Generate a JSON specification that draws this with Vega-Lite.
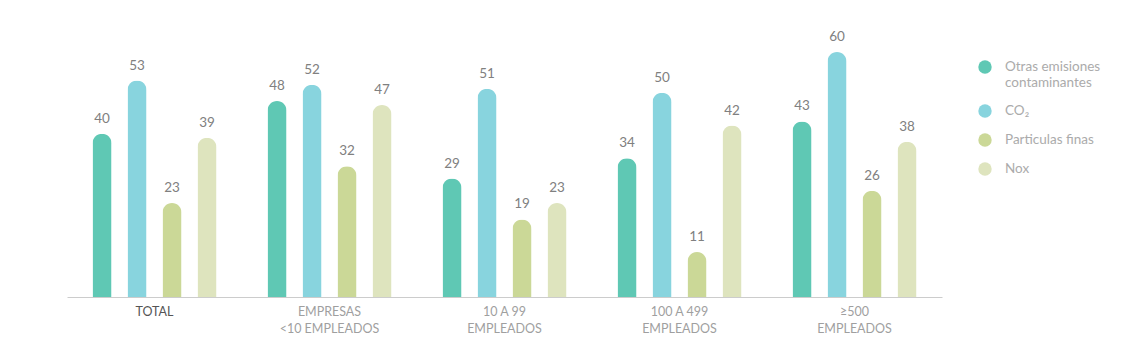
{
  "$schema": "https://vega.github.io/schema/vega-lite/v6.json",
  "width": 875,
  "height": 245,
  "autosize": {"type": "none"},
  "padding": {"left": 67, "top": 52, "right": 198, "bottom": 61},
  "background": "#ffffff",
  "config": {
    "view": {"stroke": null},
    "font": "Lato",
    "text": {"font": "Lato"}
  },
  "data": {
    "values": [
      {"grupo": "TOTAL", "serie": "Otras emisiones|contaminantes", "valor": 40},
      {"grupo": "TOTAL", "serie": "CO₂", "valor": 53},
      {"grupo": "TOTAL", "serie": "Particulas finas", "valor": 23},
      {"grupo": "TOTAL", "serie": "Nox", "valor": 39},
      {"grupo": "EMPRESAS|<10 EMPLEADOS", "serie": "Otras emisiones|contaminantes", "valor": 48},
      {"grupo": "EMPRESAS|<10 EMPLEADOS", "serie": "CO₂", "valor": 52},
      {"grupo": "EMPRESAS|<10 EMPLEADOS", "serie": "Particulas finas", "valor": 32},
      {"grupo": "EMPRESAS|<10 EMPLEADOS", "serie": "Nox", "valor": 47},
      {"grupo": "10 A 99|EMPLEADOS", "serie": "Otras emisiones|contaminantes", "valor": 29},
      {"grupo": "10 A 99|EMPLEADOS", "serie": "CO₂", "valor": 51},
      {"grupo": "10 A 99|EMPLEADOS", "serie": "Particulas finas", "valor": 19},
      {"grupo": "10 A 99|EMPLEADOS", "serie": "Nox", "valor": 23},
      {"grupo": "100 A 499|EMPLEADOS", "serie": "Otras emisiones|contaminantes", "valor": 34},
      {"grupo": "100 A 499|EMPLEADOS", "serie": "CO₂", "valor": 50},
      {"grupo": "100 A 499|EMPLEADOS", "serie": "Particulas finas", "valor": 11},
      {"grupo": "100 A 499|EMPLEADOS", "serie": "Nox", "valor": 42},
      {"grupo": "≥500|EMPLEADOS", "serie": "Otras emisiones|contaminantes", "valor": 43},
      {"grupo": "≥500|EMPLEADOS", "serie": "CO₂", "valor": 60},
      {"grupo": "≥500|EMPLEADOS", "serie": "Particulas finas", "valor": 26},
      {"grupo": "≥500|EMPLEADOS", "serie": "Nox", "valor": 38}
    ]
  },
  "encoding": {
    "x": {
      "field": "grupo",
      "type": "nominal",
      "sort": null,
      "scale": {"paddingInner": 0.2, "paddingOuter": 0.1},
      "axis": {
        "title": null,
        "labelAngle": 0,
        "labelExpr": "split(datum.value, '|')",
        "labelFontSize": 12.5,
        "labelLineHeight": 17,
        "labelPadding": 8,
        "labelColor": {"condition": {"test": "datum.value == 'TOTAL'", "value": "#555555"}, "value": "#9f9f9f"},
        "domainColor": "#cccccc",
        "domainWidth": 1,
        "ticks": false,
        "grid": false
      }
    },
    "xOffset": {
      "field": "serie",
      "type": "nominal",
      "sort": null,
      "scale": {"paddingInner": 0.457, "paddingOuter": 0.229}
    },
    "y": {
      "field": "valor",
      "type": "quantitative",
      "scale": {"domain": [0, 60]},
      "axis": null
    }
  },
  "layer": [
    {
      "mark": {"type": "bar", "cornerRadiusTopLeft": 9.5, "cornerRadiusTopRight": 9.5},
      "encoding": {
        "color": {
          "field": "serie",
          "type": "nominal",
          "sort": null,
          "scale": {
            "domain": ["Otras emisiones|contaminantes", "CO₂", "Particulas finas", "Nox"],
            "range": ["#5fc8b4", "#88d4de", "#cbd897", "#dee4be"]
          },
          "legend": {
            "title": null,
            "orient": "none",
            "legendX": 911,
            "legendY": 8,
            "symbolType": "circle",
            "symbolSize": 180,
            "symbolStrokeWidth": 0,
            "labelExpr": "split(datum.label, '|')",
            "labelFontSize": 13.5,
            "labelColor": "#ababab",
            "labelOffset": 13,
            "labelLimit": 200,
            "rowPadding": 15
          }
        }
      }
    },
    {
      "mark": {"type": "text", "baseline": "bottom", "dy": -8, "fontSize": 13.5, "color": "#808080"},
      "encoding": {
        "text": {"field": "valor", "type": "quantitative"}
      }
    }
  ]
}
